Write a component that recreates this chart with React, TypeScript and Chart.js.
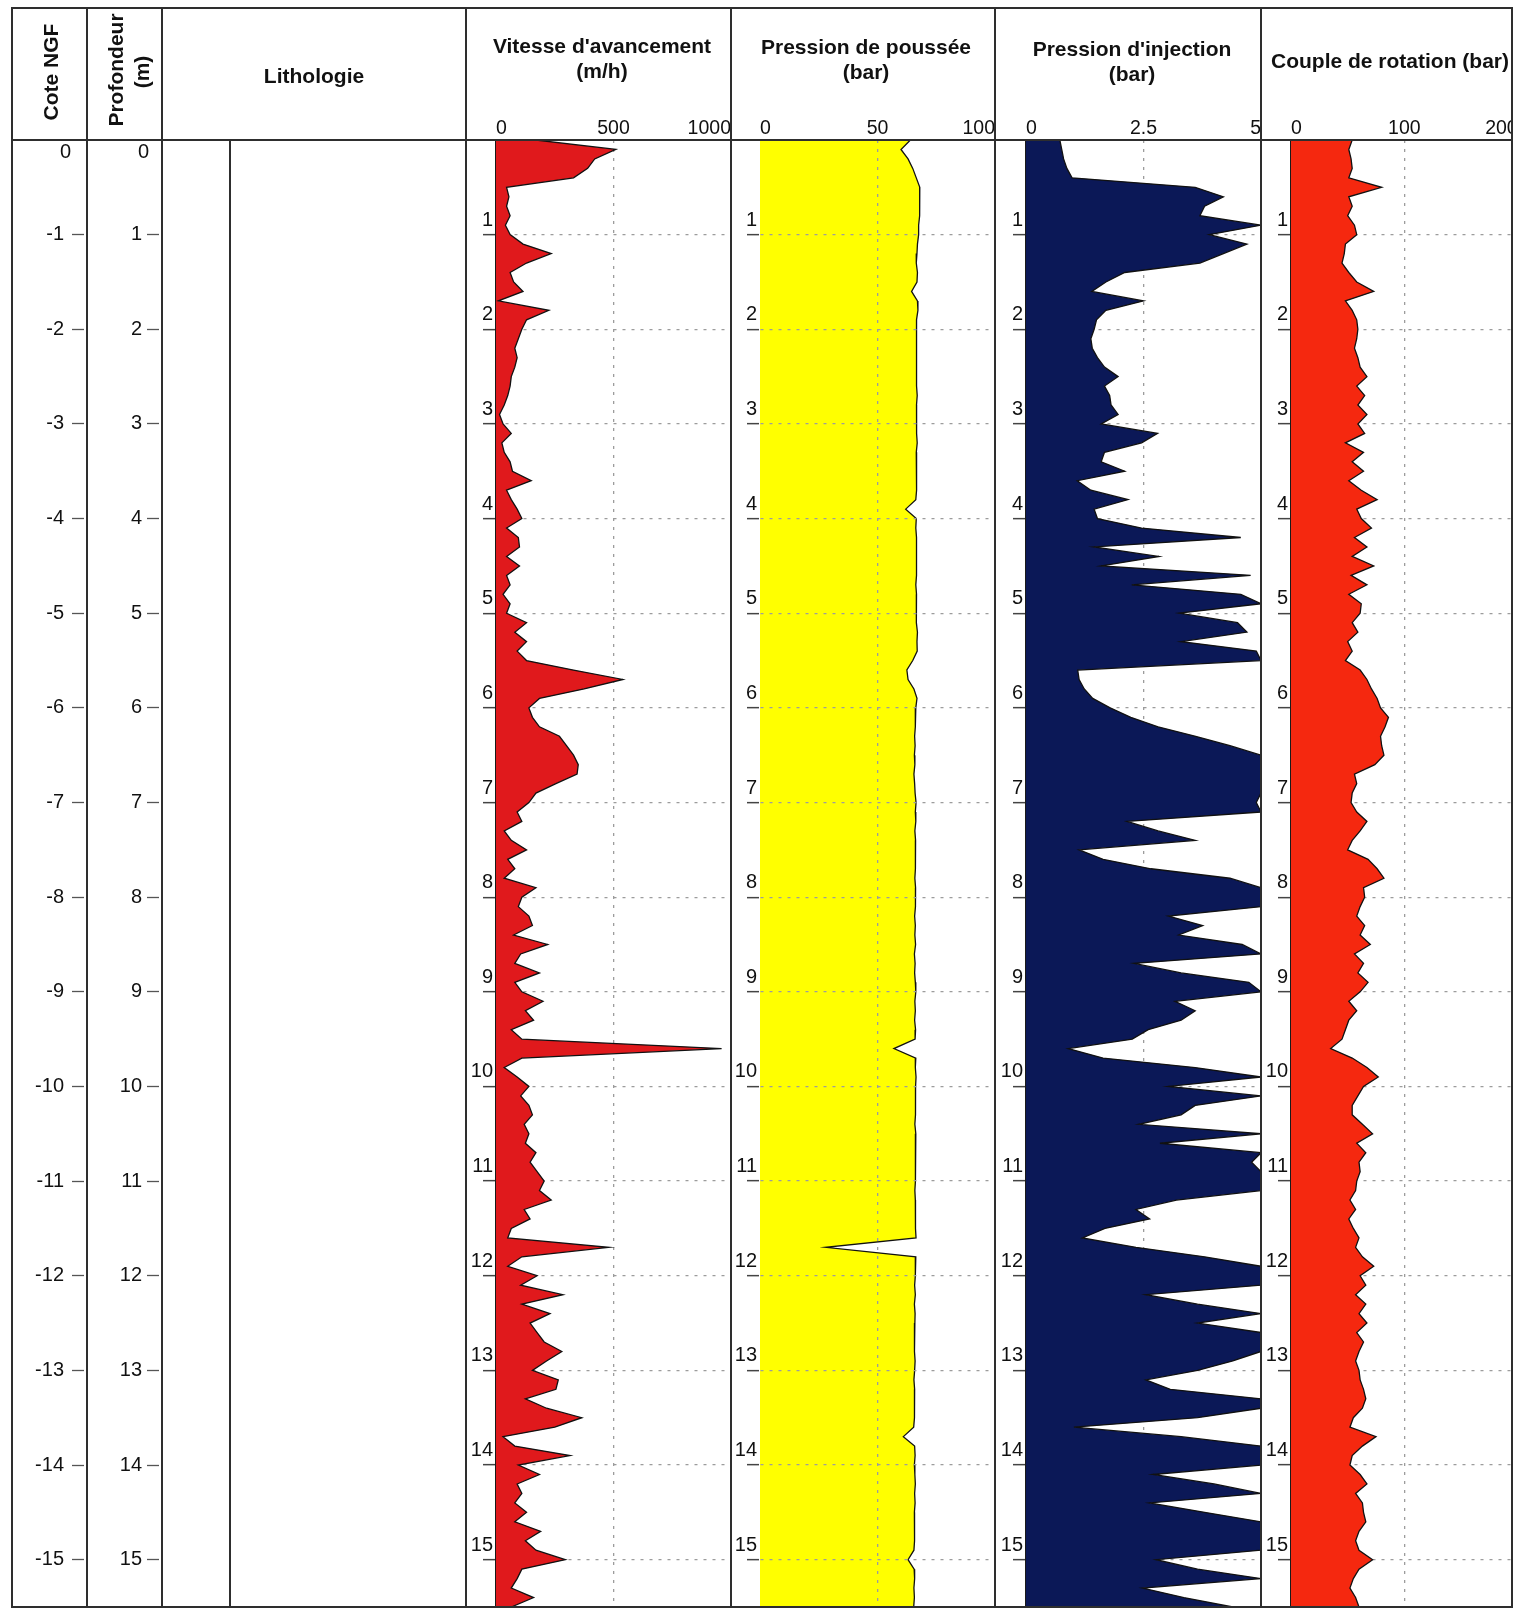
import React, { useEffect, useRef } from 'react';
import { Chart, registerables } from 'chart.js';

Chart.register(...registerables);

// ---------------- DATA ----------------
const DEPTHS = [
  0, 0.1, 0.2, 0.3, 0.4, 0.5, 0.6, 0.7, 0.8, 0.9,
  1, 1.1, 1.2, 1.3, 1.4, 1.5, 1.6, 1.7, 1.8, 1.9,
  2, 2.1, 2.2, 2.3, 2.4, 2.5, 2.6, 2.7, 2.8, 2.9,
  3, 3.1, 3.2, 3.3, 3.4, 3.5, 3.6, 3.7, 3.8, 3.9,
  4, 4.1, 4.2, 4.3, 4.4, 4.5, 4.6, 4.7, 4.8, 4.9,
  5, 5.1, 5.2, 5.3, 5.4, 5.5, 5.6, 5.7, 5.8, 5.9,
  6, 6.1, 6.2, 6.3, 6.4, 6.5, 6.6, 6.7, 6.8, 6.9,
  7, 7.1, 7.2, 7.3, 7.4, 7.5, 7.6, 7.7, 7.8, 7.9,
  8, 8.1, 8.2, 8.3, 8.4, 8.5, 8.6, 8.7, 8.8, 8.9,
  9, 9.1, 9.2, 9.3, 9.4, 9.5, 9.6, 9.7, 9.8, 9.9,
  10, 10.1, 10.2, 10.3, 10.4, 10.5, 10.6, 10.7, 10.8, 10.9,
  11, 11.1, 11.2, 11.3, 11.4, 11.5, 11.6, 11.7, 11.8, 11.9,
  12, 12.1, 12.2, 12.3, 12.4, 12.5, 12.6, 12.7, 12.8, 12.9,
  13, 13.1, 13.2, 13.3, 13.4, 13.5, 13.6, 13.7, 13.8, 13.9,
  14, 14.1, 14.2, 14.3, 14.4, 14.5, 14.6, 14.7, 14.8, 14.9,
  15, 15.1, 15.2, 15.3, 15.4, 15.5,
];

// Vitesse d'avancement (m/h)
const VITESSE = [
  170, 510, 420, 390, 330, 45, 55, 45, 60, 40,
  60, 115, 235, 130, 60, 75, 115, 10, 225, 130,
  110, 95, 80, 90, 80, 65, 60, 50, 35, 15,
  30, 65, 25, 35, 60, 70, 150, 45, 65, 90,
  110, 45, 95, 100, 45, 100, 45, 60, 30, 60,
  45, 130, 80, 130, 90, 130, 330, 540, 375, 185,
  140, 155, 185, 270, 300, 330, 350, 345, 255, 170,
  140, 90, 110, 35, 65, 130, 50, 80, 35, 170,
  110, 95, 140, 155, 75, 220, 105, 80, 185, 80,
  110, 200, 125, 160, 65, 110, 960, 110, 35, 90,
  140, 105, 140, 155, 120, 140, 125, 170, 145, 175,
  205, 185, 235, 120, 145, 65, 50, 480, 110, 50,
  175, 105, 285, 110, 230, 145, 175, 205, 280, 215,
  155, 265, 255, 125, 215, 365, 250, 30, 80, 315,
  95, 185, 90, 110, 80, 130, 80, 190, 125, 170,
  295, 110, 90, 65, 160, 65,
];

// Pression de poussée (bar)
const POUSSEE = [
  64, 60, 63, 65, 66.5, 68, 68, 67.8, 68, 67.5,
  67.5, 67, 66.8, 66.5, 67, 66.8, 64.5, 67, 67.2, 66.6,
  66.8, 66.5, 66.7, 66.4, 66.8, 66.6, 66.5, 66.9, 66.6, 66.8,
  66.4, 66.7, 66.9, 66.5, 66.8, 66.6, 66.4, 66.7, 66.3, 62,
  66.5, 66.3, 66.6, 66.8, 66.4, 66.7, 66.5, 66.3, 66.6, 66.4,
  66.5, 66.7, 67, 66.8, 66.9, 65, 62.5, 63, 65.5, 66.8,
  66.3, 66, 66.2, 65.8, 66, 65.7, 65.9, 65.5, 65.8, 66,
  66.4, 66.1, 66.3, 65.9, 66.2, 66, 66.3, 66.1, 65.9, 66.2,
  66, 66.3, 65.8, 66.1, 65.9, 66.2, 65.7, 66, 65.8, 66.1,
  66.3, 65.9, 66.1, 65.8, 66.2, 66, 57, 66.3, 66.1, 66.4,
  66.2, 66.3, 66, 66.2, 65.9, 66.3, 66.1, 66, 66.3, 66.1,
  66.2, 65.9, 66.1, 66.3, 66, 66.2, 66.4, 28, 66.3, 66.2,
  66, 65.8, 66.1, 65.7, 66, 65.9, 65.6, 65.9, 65.7, 66,
  65.8, 65.5, 65.8, 65.6, 65.9, 65.7, 65.4, 61, 65.8, 66,
  65.7, 65.9, 66.1, 65.8, 66, 65.7, 65.9, 65.6, 65.8, 65.5,
  63, 65.6, 65.8, 65.5, 65.7, 65.4,
];

// Pression d'injection (bar)
const INJECTION = [
  0.72, 0.76, 0.8, 0.87, 0.98, 3.6, 4.2, 3.8, 3.7, 5,
  3.9, 4.7, 4.2, 3.7, 2.1, 1.7, 1.4, 2.5, 1.7, 1.5,
  1.45, 1.38, 1.41, 1.52, 1.67, 1.96, 1.67, 1.78, 1.81, 1.96,
  1.6, 2.8, 2.46, 1.67, 1.6, 2.1, 1.09, 1.38, 2.17, 1.45,
  1.52, 2.46, 4.57, 1.45, 2.83, 1.6, 4.78, 2.25, 4.57, 5,
  3.26, 4.5, 4.7, 3.3, 4.9, 5, 1.1, 1.13, 1.24, 1.42,
  1.79, 2.23, 2.81, 3.61, 4.34, 5, 5, 5, 5, 5,
  4.9, 5, 2.15, 2.81, 3.6, 1.13, 1.64, 2.66, 4.34, 5,
  5, 5, 3.03, 3.76, 3.25, 4.6, 5, 2.3, 3.3, 4.74,
  5, 3.17, 3.6, 3.3, 2.6, 2.26, 0.9, 1.64, 3.6, 5,
  3.03, 5, 3.6, 3.3, 2.4, 5, 2.85, 5, 4.8, 5,
  5, 5, 3.2, 2.34, 2.63, 1.68, 1.2, 2.34, 3.8, 5,
  5, 5, 2.55, 3.65, 5, 3.65, 5, 5, 5, 4.4,
  3.65, 2.55, 3.07, 5, 5, 3.65, 1.02, 3.3, 5, 5,
  5, 2.7, 4.0, 5, 2.63, 3.8, 5, 5, 5, 5,
  2.77, 3.65, 5, 2.48, 3.36, 4.4,
];

// Couple de rotation (bar)
const COUPLE = [
  54, 51, 53, 54, 51, 80, 51, 54, 50, 56,
  58, 48, 47, 45, 51, 58, 73, 48, 54, 58,
  59, 58, 56, 59, 61, 67, 58, 65, 59, 67,
  59, 65, 48, 64, 54, 64, 51, 62, 76, 58,
  62, 71, 56, 67, 54, 73, 53, 67, 51, 62,
  61, 54, 59, 50, 54, 48, 61, 67, 71, 76,
  79, 86, 83, 79, 80, 82, 74, 56, 58, 54,
  53, 58, 67, 61, 54, 50, 68, 76, 82, 64,
  65, 61, 58, 65, 61, 70, 56, 64, 59, 68,
  61, 51, 58, 51, 48, 45, 35, 54, 67, 77,
  64, 59, 54, 54, 63, 72, 58, 66, 60, 61,
  58, 57, 52, 57, 51, 55, 60, 57, 63, 73,
  61, 66, 57, 66, 60, 67, 58, 64, 60, 57,
  60, 61, 64, 66, 63, 55, 52, 75, 63, 54,
  52, 61, 67, 57, 63, 64, 66, 60, 57, 60,
  72, 60, 55, 52, 57, 60,
];

const DEPTH_TICKS = [0, 1, 2, 3, 4, 5, 6, 7, 8, 9, 10, 11, 12, 13, 14, 15];
const COTE_TICKS = [0, -1, -2, -3, -4, -5, -6, -7, -8, -9, -10, -11, -12, -13, -14, -15];
const VIT_TICKS = [0, 500, 1000];
const POUS_TICKS = [0, 50, 100];
const INJ_TICKS = [0, 2.5, 5];
const COUPLE_TICKS = [0, 100, 200];
const DEPTH_MAX = 15.5;

// ---------------- LAYOUT / STYLE ----------------
const L = {
  top: 8, head: 140, bottom: 1607, canvasTop: 100,
  left: 12, cote: 87, prof: 162, lithoIn: 230, litho: 466,
  vit: 731, pous: 995, inj: 1261, right: 1512,
};
const FONT = "'Liberation Sans', Arial, Helvetica, sans-serif";
const FRAME = '#2e2e2e';
const GRID = '#9c9c9c';
const TEXT = '#111';

function zeroPad(s: any) {
  s.paddingLeft = 0; s.paddingRight = 0; s.paddingTop = 0; s.paddingBottom = 0;
}

type TrackProps = {
  values: number[]; ticks: number[]; max: number; mid: number; fill: string;
  left: number; right: number; axisW: number; gridZ: number;
};

function Track(p: TrackProps) {
  const ref = useRef<HTMLCanvasElement>(null);
  const W = p.right - p.left;
  const H = L.bottom - L.canvasTop;
  useEffect(() => {
    const chart = new Chart(ref.current as HTMLCanvasElement, {
      type: 'line',
      data: {
        datasets: [{
          data: DEPTHS.map((d, i) => ({ x: p.values[i], y: d })),
          fill: 'origin',
          backgroundColor: p.fill,
          borderColor: '#111',
          borderWidth: 1.3,
          pointRadius: 0,
          tension: 0,
        }],
      },
      options: {
        indexAxis: 'y',
        responsive: false,
        animation: false,
        devicePixelRatio: 1,
        events: [],
        layout: { autoPadding: false, padding: { top: 0, left: 0, right: 0, bottom: 0 } },
        plugins: { legend: { display: false }, tooltip: { enabled: false } },
        scales: {
          x: {
            type: 'linear', position: 'top', min: 0, max: p.max,
            afterBuildTicks: (s: any) => { s.ticks = p.ticks.map((v) => ({ value: v })); },
            afterFit: (s: any) => { s.height = L.head - L.canvasTop; zeroPad(s); },
            grid: {
              color: (c: any) => (c.tick && c.tick.value === p.mid ? GRID : 'transparent'),
              lineWidth: 1.3, drawTicks: false, z: p.gridZ,
            },
            border: { display: false, dash: [3, 6] },
            ticks: {
              align: 'inner', padding: 0, autoSkip: false, maxRotation: 0, minRotation: 0,
              color: TEXT, font: { family: FONT, size: 19.5 },
              callback: (v: any) => String(v),
            },
          },
          y: {
            type: 'linear', position: 'left', reverse: true, min: 0, max: DEPTH_MAX,
            afterBuildTicks: (s: any) => { s.ticks = DEPTH_TICKS.map((v) => ({ value: v })); },
            afterFit: (s: any) => { s.width = p.axisW; zeroPad(s); },
            grid: {
              color: (c: any) => (c.tick && c.tick.value === 0 ? 'transparent' : GRID),
              tickColor: (c: any) => (c.tick && c.tick.value === 0 ? 'transparent' : '#444'),
              lineWidth: 1.3, tickLength: 13, tickWidth: 1.5, tickBorderDash: [], z: p.gridZ,
            },
            border: { display: true, color: '#1a1a1a', width: 1.5, dash: [3, 6] },
            ticks: {
              padding: -10, labelOffset: -14.5, autoSkip: false,
              color: TEXT, font: { family: FONT, size: 20 },
              callback: (v: any) => (v === 0 ? '' : String(v)),
            },
          },
        },
      } as any,
    });
    return () => chart.destroy();
  }, []);
  return (
    <canvas ref={ref} width={W} height={H}
      style={{ position: 'absolute', left: p.left, top: L.canvasTop, width: W, height: H }} />
  );
}

function DepthColumns() {
  const ref = useRef<HTMLCanvasElement>(null);
  const W = L.litho - L.left;
  const H = L.bottom - L.canvasTop;
  useEffect(() => {
    const tickCol = (c: any) => (c.tick && c.tick.value === 0 ? 'transparent' : '#555');
    const chart = new Chart(ref.current as HTMLCanvasElement, {
      type: 'line',
      data: { datasets: [] },
      options: {
        responsive: false,
        animation: false,
        devicePixelRatio: 1,
        events: [],
        layout: { autoPadding: false, padding: { top: L.head - L.canvasTop, left: 0, right: 0, bottom: 0 } },
        plugins: { legend: { display: false }, tooltip: { enabled: false } },
        scales: {
          x: { type: 'linear', display: false, min: 0, max: 1 },
          yCote: {
            axis: 'y', type: 'linear', position: 'left', weight: 2, min: -DEPTH_MAX, max: 0,
            afterBuildTicks: (s: any) => { s.ticks = COTE_TICKS.map((v) => ({ value: v })); },
            afterFit: (s: any) => { s.width = (L.cote - 3) - L.left; zeroPad(s); },
            grid: { drawOnChartArea: false, tickLength: 12, tickWidth: 1.3, tickColor: tickCol, tickBorderDash: [] },
            border: { display: false },
            ticks: {
              padding: 8, autoSkip: false, color: TEXT, font: { family: FONT, size: 20 },
              callback: (v: any) => (v === 0 ? '' : String(v)),
            },
          },
          yProf: {
            axis: 'y', type: 'linear', position: 'left', weight: 1, reverse: true, min: 0, max: DEPTH_MAX,
            afterBuildTicks: (s: any) => { s.ticks = DEPTH_TICKS.map((v) => ({ value: v })); },
            afterFit: (s: any) => { s.width = (L.prof - 3) - (L.cote - 3); zeroPad(s); },
            grid: { drawOnChartArea: false, tickLength: 12, tickWidth: 1.3, tickColor: tickCol, tickBorderDash: [] },
            border: { display: false },
            ticks: {
              padding: 5, autoSkip: false, color: TEXT, font: { family: FONT, size: 20 },
              callback: (v: any) => (v === 0 ? '' : String(v)),
            },
          },
        },
      } as any,
    });
    return () => chart.destroy();
  }, []);
  return (
    <canvas ref={ref} width={W} height={H}
      style={{ position: 'absolute', left: L.left, top: L.canvasTop, width: W, height: H }} />
  );
}

function VLine({ x, y1, y2 }: { x: number; y1: number; y2: number }) {
  return <div style={{ position: 'absolute', left: x - 1, top: y1 - 1, width: 2, height: y2 - y1 + 2, background: FRAME }} />;
}
function HLine({ y, x1, x2 }: { y: number; x1: number; x2: number }) {
  return <div style={{ position: 'absolute', left: x1 - 1, top: y - 1, width: x2 - x1 + 2, height: 2, background: FRAME }} />;
}

function Title({ cx, top, lines, lh = 25 }: { cx: number; top: number; lines: string[]; lh?: number }) {
  return (
    <div style={{
      position: 'absolute', left: cx - 160, top, width: 320, textAlign: 'center',
      fontFamily: FONT, fontWeight: 'bold', fontSize: 21, lineHeight: lh + 'px', color: TEXT, whiteSpace: 'nowrap',
    }}>
      {lines.map((t, i) => <div key={i}>{t}</div>)}
    </div>
  );
}

function VTitle({ cx, cy, text }: { cx: number; cy: number; text: string }) {
  return (
    <div style={{
      position: 'absolute', left: cx - 80, top: cy - 12, width: 160, height: 24, lineHeight: '24px',
      textAlign: 'center', transform: 'rotate(-90deg)', fontFamily: FONT, fontWeight: 'bold', fontSize: 21,
      color: TEXT, whiteSpace: 'nowrap',
    }}>{text}</div>
  );
}

function ZeroLabel({ right, top }: { right: number; top: number }) {
  return (
    <div style={{
      position: 'absolute', left: right - 40, top, width: 40, textAlign: 'right',
      fontFamily: FONT, fontSize: 20, lineHeight: '20px', color: TEXT,
    }}>0</div>
  );
}

export default function App() {
  const vlines = [L.left, L.cote, L.prof, L.litho, L.vit, L.pous, L.inj, L.right];
  return (
    <div style={{ position: 'absolute', left: 0, top: 0, width: 1526, height: 1610, background: '#fff', overflow: 'hidden' }}>
      <DepthColumns />
      <Track values={VITESSE} ticks={VIT_TICKS} max={1000} mid={500} fill="#e0191c"
        left={L.litho} right={L.vit} axisW={30} gridZ={-1} />
      <Track values={POUSSEE} ticks={POUS_TICKS} max={100} mid={50} fill="#ffff00"
        left={L.vit} right={L.pous} axisW={29} gridZ={1} />
      <Track values={INJECTION} ticks={INJ_TICKS} max={5} mid={2.5} fill="#0b1857"
        left={L.pous} right={L.inj} axisW={31} gridZ={-1} />
      <Track values={COUPLE} ticks={COUPLE_TICKS} max={195} mid={100} fill="#f5280f"
        left={L.inj} right={L.right} axisW={30} gridZ={-1} />

      {vlines.map((x, i) => <VLine key={'v' + i} x={x} y1={L.top} y2={L.bottom} />)}
      <VLine x={L.lithoIn} y1={L.head} y2={L.bottom} />
      <HLine y={L.top} x1={L.left} x2={L.right} />
      <HLine y={L.head} x1={L.left} x2={L.right} />
      <HLine y={L.bottom} x1={L.left} x2={L.right} />

      <VTitle cx={51} cy={72} text="Cote NGF" />
      <VTitle cx={116} cy={70} text="Profondeur" />
      <VTitle cx={142} cy={72} text="(m)" />
      <Title cx={314} top={63} lines={['Lithologie']} />
      <Title cx={602} top={33} lines={["Vitesse d'avancement", '(m/h)']} />
      <Title cx={866} top={34} lines={['Pression de poussée', '(bar)']} />
      <Title cx={1132} top={36} lines={["Pression d'injection", '(bar)']} />
      <div style={{
        position: 'absolute', left: L.inj + 10, top: 48, width: L.right - L.inj - 10, overflow: 'hidden',
        fontFamily: FONT, fontWeight: 'bold', fontSize: 21, lineHeight: '25px', color: TEXT, whiteSpace: 'nowrap',
      }}>Couple de rotation (bar)</div>

      <ZeroLabel right={71} top={141} />
      <ZeroLabel right={149} top={141} />
    </div>
  );
}
